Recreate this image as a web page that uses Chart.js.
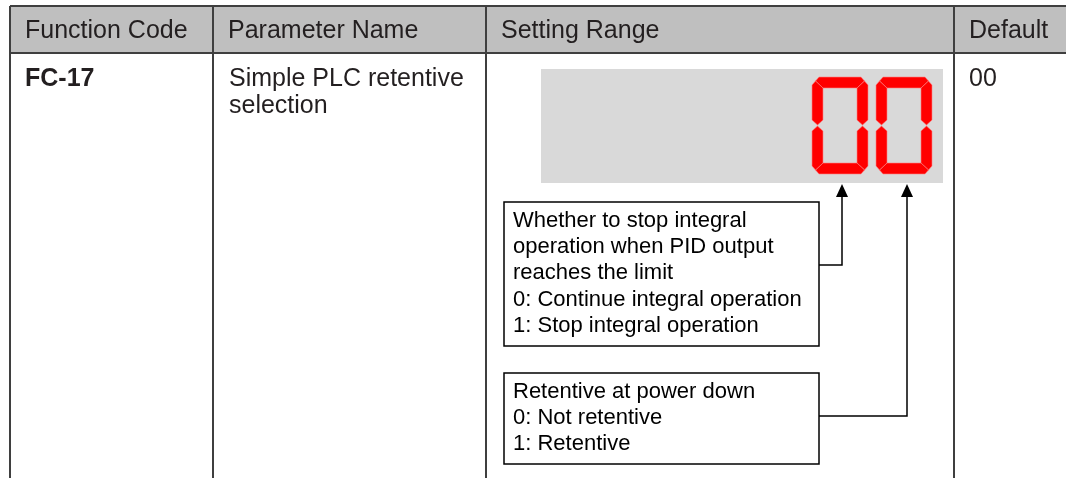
<!DOCTYPE html>
<html>
<head>
<meta charset="utf-8">
<title>FC-17 Simple PLC retentive selection</title>
<script src="https://cdn.jsdelivr.net/npm/chart.js@4/dist/chart.umd.min.js"></script>
<style>
    html, body { margin: 0; padding: 0; background: #fff; }
    #wrap { width: 1066px; height: 478px; }
</style>
</head>
<body>
<div id="wrap"><canvas id="table" width="1066" height="478"></canvas></div>
<script>
// table content
const headers = ['Function Code', 'Parameter Name', 'Setting Range', 'Default'];
const codes = ['FC-17'];
const paramNames = ['Simple PLC retentive', 'selection'];
const defaults = ['00'];
const displayDigits = ['0', '0'];
const tensNotes = [
    'Whether to stop integral',
    'operation when PID output',
    'reaches the limit',
    '0: Continue integral operation',
    '1: Stop integral operation'
];
const onesNotes = [
    'Retentive at power down',
    '0: Not retentive',
    '1: Retentive'
];

// layout, in page pixels (the hidden axes run 0..1066 and 0..478)
const colEdges = [10, 213, 486, 954, 1066];
const tableTop = 6;
const headerBottom = 53;
const tableBottom = 478;
const displayBox = {x1: 541, y1: 69, x2: 943, y2: 183};
const digitLeft = [812, 876];
const digitTop = 77;
const arrowX = [842, 907];
const arrowTip = 184;
const noteBoxes = [
    {x1: 504, y1: 202, x2: 819, y2: 346, joinY: 265, textY: 221, lines: tensNotes},
    {x1: 504, y1: 373, x2: 819, y2: 464, joinY: 416, textY: 392, lines: onesNotes}
];

const textColor = '#231f20';
const gridColor = '#3f3f3f';

// seven segment shapes on a 56 x 97 cell
const SEG_SHAPES = {
    a: [[3.5, 4], [7, 0], [49, 0], [52.5, 4], [45, 11], [11, 11]],
    b: [[45, 11], [52.5, 4], [56, 8], [56, 43], [50.5, 48], [45, 43]],
    c: [[45, 54], [50.5, 49], [56, 54], [56, 89], [52.5, 93], [45, 86]],
    d: [[3.5, 93], [11, 86], [45, 86], [52.5, 93], [49, 97], [7, 97]],
    e: [[0, 54], [5.5, 49], [11, 54], [11, 86], [3.5, 93], [0, 89]],
    f: [[0, 8], [3.5, 4], [11, 11], [11, 43], [5.5, 48], [0, 43]],
    g: [[5.5, 48.5], [11, 43], [45, 43], [50.5, 48.5], [45, 54], [11, 54]]
};
const DIGIT_SEGS = {
    '0': 'abcdef', '1': 'bc', '2': 'abged', '3': 'abgcd', '4': 'fgbc',
    '5': 'afgcd', '6': 'afgedc', '7': 'abc', '8': 'abcdefg', '9': 'abcdfg'
};

function lineSet(points, color, width) {
    return {
        data: points.map(p => ({x: p[0], y: p[1]})),
        showLine: true,
        borderColor: color,
        borderWidth: width,
        pointRadius: 0,
        fill: false,
        clip: false
    };
}

let datasets = [];
// table rules
datasets.push(lineSet([[colEdges[0], tableTop], [colEdges[colEdges.length - 1], tableTop]], gridColor, 2));
datasets.push(lineSet([[colEdges[0], headerBottom], [colEdges[colEdges.length - 1], headerBottom]], gridColor, 2));
for (let i = 0; i < colEdges.length - 1; i++) {
    datasets.push(lineSet([[colEdges[i], tableTop], [colEdges[i], tableBottom]], gridColor, 2));
}
// leader lines from the note boxes up to the digits
for (let i = 0; i < noteBoxes.length; i++) {
    let box = noteBoxes[i];
    datasets.push(lineSet([[box.x2, box.joinY], [arrowX[i], box.joinY], [arrowX[i], arrowTip + 10]], '#000', 1.5));
}

const tablePlugin = {
    id: 'tablePlugin',
    beforeDatasetsDraw(chart) {
        const ctx = chart.ctx;
        const px = v => chart.scales.x.getPixelForValue(v);
        const py = v => chart.scales.y.getPixelForValue(v);
        ctx.save();

        // header band
        ctx.fillStyle = '#bfbfbf';
        ctx.fillRect(px(colEdges[0]), py(tableTop), px(colEdges[colEdges.length - 1]) - px(colEdges[0]), py(headerBottom) - py(tableTop));

        // display panel
        ctx.fillStyle = '#d9d9d9';
        ctx.fillRect(px(displayBox.x1), py(displayBox.y1), px(displayBox.x2) - px(displayBox.x1), py(displayBox.y2) - py(displayBox.y1));

        // digits
        for (let i = 0; i < displayDigits.length; i++) {
            let segs = DIGIT_SEGS[displayDigits[i]] || '';
            for (let s of segs) {
                let shape = SEG_SHAPES[s];
                ctx.beginPath();
                shape.forEach((p, k) => {
                    let x = px(digitLeft[i] + p[0]);
                    let y = py(digitTop + p[1]);
                    if (k === 0) ctx.moveTo(x, y); else ctx.lineTo(x, y);
                });
                ctx.closePath();
                ctx.fillStyle = '#ff0000';
                ctx.fill();
                ctx.strokeStyle = '#ff8080';
                ctx.lineWidth = 0.6;
                ctx.stroke();
            }
        }
        ctx.restore();
    },
    afterDatasetsDraw(chart) {
        const ctx = chart.ctx;
        const px = v => chart.scales.x.getPixelForValue(v);
        const py = v => chart.scales.y.getPixelForValue(v);
        ctx.save();
        ctx.textBaseline = 'middle';
        ctx.textAlign = 'left';
        ctx.fillStyle = textColor;

        // header row
        ctx.font = '25px "Liberation Sans", Arial, sans-serif';
        for (let i = 0; i < headers.length; i++) {
            ctx.fillText(headers[i], px(colEdges[i] + 15), py(31));
        }

        // body row
        ctx.font = 'bold 25px "Liberation Sans", Arial, sans-serif';
        ctx.fillText(codes[0], px(colEdges[0] + 15), py(79));
        ctx.font = '25px "Liberation Sans", Arial, sans-serif';
        paramNames.forEach((line, k) => {
            ctx.fillText(line, px(colEdges[1] + 16), py(79 + k * 27));
        });
        ctx.fillText(defaults[0], px(colEdges[3] + 15), py(79));

        // note boxes
        ctx.font = '22px "Liberation Sans", Arial, sans-serif';
        ctx.strokeStyle = '#000';
        ctx.lineWidth = 1.5;
        for (let box of noteBoxes) {
            ctx.fillStyle = '#fff';
            ctx.fillRect(px(box.x1), py(box.y1), px(box.x2) - px(box.x1), py(box.y2) - py(box.y1));
            ctx.strokeRect(px(box.x1), py(box.y1), px(box.x2) - px(box.x1), py(box.y2) - py(box.y1));
            ctx.fillStyle = '#000';
            box.lines.forEach((line, k) => {
                ctx.fillText(line, px(box.x1 + 9), py(box.textY + k * 26.2));
            });
        }

        // arrow heads
        ctx.fillStyle = '#000';
        for (let x of arrowX) {
            ctx.beginPath();
            ctx.moveTo(px(x), py(arrowTip));
            ctx.lineTo(px(x + 6), py(arrowTip + 13));
            ctx.lineTo(px(x - 6), py(arrowTip + 13));
            ctx.closePath();
            ctx.fill();
        }
        ctx.restore();
    }
};

new Chart(document.getElementById('table'), {
    type: 'scatter',
    data: {datasets: datasets},
    options: {
        responsive: false,
        animation: false,
        events: [],
        layout: {padding: 0},
        scales: {
            x: {type: 'linear', min: 0, max: 1066, display: false},
            y: {type: 'linear', min: 0, max: 478, reverse: true, display: false}
        },
        plugins: {
            legend: {display: false},
            tooltip: {enabled: false}
        }
    },
    plugins: [tablePlugin]
});
</script>
</body>
</html>
